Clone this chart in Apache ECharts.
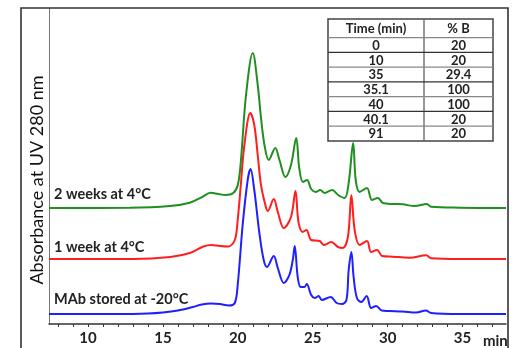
<!DOCTYPE html>
<html>
<head>
<meta charset="utf-8">
<script src="https://cdn.jsdelivr.net/npm/echarts@6/dist/echarts.min.js"></script>
<style>
  html, body { margin: 0; padding: 0; background: #fff; }
  #main { width: 516px; height: 348px; }
</style>
</head>
<body>
<div id="main"></div>
<script>
// retention time (min) / absorbance above each trace's baseline (arbitrary units)
var blueTime = [7.4, 12, 14, 15, 16, 17, 17.6, 18.2, 18.8, 19.4, 19.8, 20.0, 20.33, 20.67, 20.85, 21.1, 21.44, 21.73, 21.95, 22.4, 22.67, 23.07, 23.44, 23.67, 23.8, 24.0, 24.2, 24.45, 24.6, 24.9, 25.13, 25.4, 25.6, 26.2, 26.6, 26.95, 27.25, 27.4, 27.58, 27.73, 27.95, 28.25, 28.6, 28.9, 29.24, 29.6, 30.1, 31.0, 31.9, 32.55, 32.9, 34.8, 37.9];
var blueAbs  = [0, 0, 0.5, 1.5, 3.5, 7, 9.5, 10.5, 10, 8.5, 11, 30, 90, 135, 145, 124, 81, 54, 47, 58, 46, 31, 39, 54, 68, 37, 27, 27, 30, 19, 16, 18, 14, 17, 11, 10, 14, 44, 62, 37, 16, 12, 18, 6, 8, 3.5, 3, 2.5, 1.5, 3.5, 1, 0, 0];

var redTime = [7.4, 13, 15.5, 16.8, 17.7, 18.24, 18.8, 19.36, 19.8, 20.0, 20.2, 20.44, 20.84, 21.1, 21.33, 21.55, 21.84, 22.0, 22.4, 22.67, 23.07, 23.55, 23.85, 24.05, 24.33, 24.58, 24.9, 25.47, 25.73, 26.24, 26.69, 27.0, 27.35, 27.58, 27.8, 28.13, 28.62, 28.9, 29.29, 29.64, 30.35, 31.47, 32.58, 32.9, 34.8, 37.9];
var redAbs  = [0, 0, 2, 6, 12.5, 14, 13, 12.5, 19, 40, 74, 114, 146, 134, 104, 74, 54, 48, 60, 47, 31, 42, 68, 37, 27, 29, 19, 18, 14, 17, 12, 11, 22, 64, 29, 14, 18, 7, 9, 3, 2.3, 1.3, 3.7, 0.7, 0, 0];

var greenTime = [7.4, 12.8, 15.47, 16.8, 17.58, 18.2, 18.7, 19.2, 19.7, 20.0, 20.2, 20.55, 21.0, 21.33, 21.55, 21.78, 22.07, 22.5, 22.78, 23.18, 23.55, 23.9, 24.1, 24.35, 24.62, 24.9, 25.2, 25.5, 25.8, 26.3, 26.7, 27.13, 27.4, 27.7, 27.87, 28.13, 28.62, 28.95, 29.35, 29.69, 30.35, 31.0, 31.8, 32.62, 32.9, 34.8, 37.9];
var greenAbs  = [0, 0.3, 2, 5.3, 10.7, 15.3, 14, 13, 15, 23, 46, 113, 155, 123, 90, 63, 48, 60, 48, 31, 43, 70, 40, 26, 28, 19, 16, 18, 15, 18, 13, 10, 25, 65, 28, 16, 20, 8, 10, 5, 4, 3.7, 2, 4, 1.3, 0.3, 0];

var seriesNames = ['MAb stored at -20°C', '1 week at 4°C', '2 weeks at 4°C'];
var baselines = [10, 65, 116];
var colors = ['#1f1fff', '#ff1f1f', '#1f8f1f'];

var tickLabels = [10, 15, 20, 25, 30, 35];
var minorTicks = [8, 9, 10, 11, 12, 13, 14, 15, 16, 17, 18, 19, 20, 21, 22, 23, 24, 25, 26, 27, 28, 29, 30, 31, 32, 33, 34, 35, 36, 37];

var tableHeader = ['Time (min)', '% B'];
var tableTime = ['0', '10', '35', '35.1', '40', '40.1', '91'];
var tablePctB = ['20', '20', '29.4', '100', '100', '20', '20'];

function trace(times, vals, base) {
  return times.map(function (t, i) { return [t, base + vals[i]]; });
}
var traces = [
  trace(blueTime, blueAbs, baselines[0]),
  trace(redTime, redAbs, baselines[1]),
  trace(greenTime, greenAbs, baselines[2])
];

var font = 'Lato, "Open Sans", sans-serif';

// table graphic
var tx = 328, tCol = 424, tRight = 493, tTop = 19, hdrH = 18.7, rowH = 14.75;
var tableEls = [];
var tBottom = tTop + hdrH + rowH * tableTime.length;
tableEls.push({ type: 'rect', shape: { x: tx, y: tTop, width: tRight - tx, height: tBottom - tTop },
  style: { fill: '#fff', stroke: '#444', lineWidth: 1.5 }, z: 10 });
tableEls.push({ type: 'line', shape: { x1: tCol, y1: tTop, x2: tCol, y2: tBottom },
  style: { stroke: '#555', lineWidth: 1.2 }, z: 11 });
for (var r = 0; r < tableTime.length; r++) {
  var yl = tTop + hdrH + rowH * r;
  tableEls.push({ type: 'line', shape: { x1: tx, y1: yl, x2: tRight, y2: yl },
    style: { stroke: r % 2 ? '#333' : '#888', lineWidth: 1.2 }, z: 11 });
}
var cellText = function (txt, cx, cy) {
  return { type: 'text', x: cx, y: cy, z: 12,
    style: { text: txt, fill: '#222', font: 'bold 13px ' + font, textAlign: 'center', textVerticalAlign: 'middle' } };
};
tableEls.push(cellText(tableHeader[0], (tx + tCol) / 2, tTop + hdrH / 2));
tableEls.push(cellText(tableHeader[1], (tCol + tRight) / 2, tTop + hdrH / 2));
for (var k = 0; k < tableTime.length; k++) {
  var cy = tTop + hdrH + rowH * k + rowH / 2 + 0.5;
  tableEls.push(cellText(tableTime[k], (tx + tCol) / 2, cy));
  tableEls.push(cellText(tablePctB[k], (tCol + tRight) / 2, cy));
}

var labelY = [299, 247, 194];
var labelEls = seriesNames.map(function (n, i) {
  return { type: 'text', x: 54, y: labelY[i], z: 10,
    style: { text: n, fill: '#222', font: 'bold 14.5px ' + font, textVerticalAlign: 'middle' } };
});

var myChart = echarts.init(document.getElementById('main'));
var option = {
  animation: false,
  backgroundColor: '#fff',
  grid: { left: 49, right: 10, top: 8, bottom: 24 },
  xAxis: {
    type: 'value',
    min: 7.4,
    max: 37.9,
    axisLine: { lineStyle: { color: '#333', width: 1.5 } },
    axisTick: { show: true, customValues: minorTicks, length: 3, lineStyle: { color: '#333' } },
    axisLabel: { customValues: tickLabels, color: '#222', fontFamily: font, fontWeight: 'bold', fontSize: 15, margin: 7 },
    splitLine: { show: false }
  },
  yAxis: {
    type: 'value',
    min: 0,
    max: 316,
    axisLine: { show: true, lineStyle: { color: '#777', width: 1 } },
    axisTick: { show: false },
    axisLabel: { show: false },
    splitLine: { show: false }
  },
  series: traces.map(function (d, i) {
    return {
      name: seriesNames[i],
      type: 'line',
      data: d,
      smooth: 0.35,
      showSymbol: false,
      lineStyle: { color: colors[i], width: 2 }
    };
  }),
  graphic: [
    { type: 'rect', shape: { x: 21, y: 8, width: 487, height: 360 },
      style: { fill: 'none', stroke: '#333', lineWidth: 1.6 }, z: 20, silent: true },
    { type: 'text', x: 37, y: 180, rotation: Math.PI / 2, z: 10,
      style: { text: 'Absorbance at UV 280 nm', fill: '#111', font: '18px ' + font, textAlign: 'center', textVerticalAlign: 'middle' } },
    { type: 'text', x: 483, y: 341, z: 10,
      style: { text: 'min', fill: '#222', font: 'bold 15px ' + font, textVerticalAlign: 'middle' } }
  ].concat(tableEls, labelEls)
};
myChart.setOption(option);
</script>
</body>
</html>
